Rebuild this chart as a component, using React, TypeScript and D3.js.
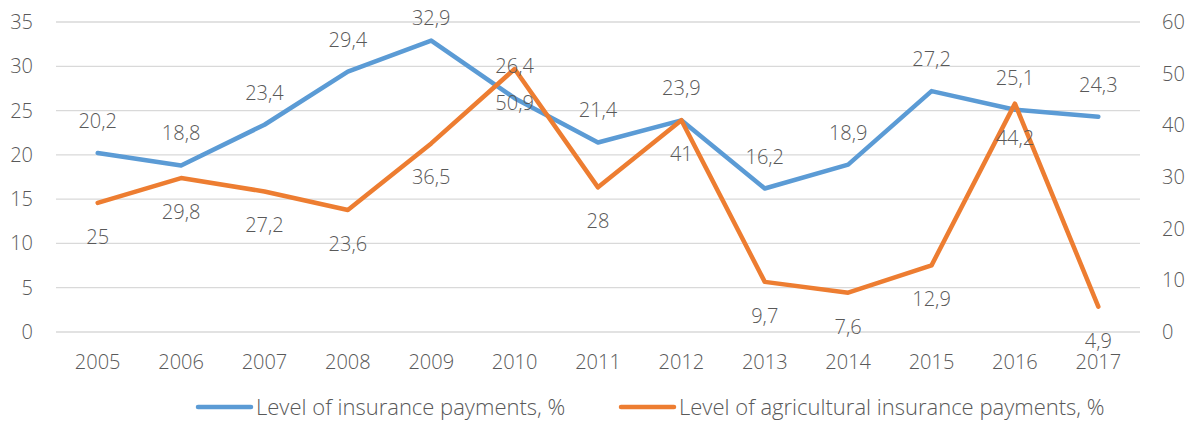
import React from "react";
import * as d3 from "d3";

// chart data
const years = ["2005", "2006", "2007", "2008", "2009", "2010", "2011", "2012", "2013", "2014", "2015", "2016", "2017"];
const insurancePayments = [20.2, 18.8, 23.4, 29.4, 32.9, 26.4, 21.4, 23.9, 16.2, 18.9, 27.2, 25.1, 24.3];
const agriPayments = [25, 29.8, 27.2, 23.6, 36.5, 50.9, 28, 41, 9.7, 7.6, 12.9, 44.2, 4.9];
const leftTicks = [0, 5, 10, 15, 20, 25, 30, 35];
const rightTicks = [0, 10, 20, 30, 40, 50, 60];
const seriesNames = ["Level of insurance payments, %", "Level of agricultural insurance payments, %"];

const W = 1194, H = 421;
const margin = { top: 22, right: 54, bottom: 89, left: 56 };
const BLUE = "#5B9BD5";
const ORANGE = "#ED7D31";
const TEXT = "#595959";
const FONT = "'Open Sans', sans-serif";
const FS = 20;

const fmt = (v: number) => String(v).replace(".", ",");

export default function App() {
  const x = d3.scaleBand<string>().domain(years).range([margin.left, W - margin.right]);
  const yL = d3.scaleLinear().domain([0, 35]).range([H - margin.bottom, margin.top]);
  const yR = d3.scaleLinear().domain([0, 60]).range([H - margin.bottom, margin.top]);
  const cx = (y: string) => (x(y) ?? 0) + x.bandwidth() / 2;

  const lineL = d3.line<number>().x((_, i) => cx(years[i])).y((d) => yL(d));
  const lineR = d3.line<number>().x((_, i) => cx(years[i])).y((d) => yR(d));

  return (
    <svg width={W} height={H} style={{ position: "absolute", left: 0, top: 0 }} fontFamily={FONT} fontWeight={300}>
      <rect width={W} height={H} fill="#fff" />
      {/* gridlines */}
      {leftTicks.map((t) => (
        <line key={t} x1={margin.left} x2={W - margin.right} y1={yL(t)} y2={yL(t)} stroke="#D9D9D9" strokeWidth={1.3} />
      ))}
      {/* left axis */}
      {leftTicks.map((t) => (
        <text key={t} x={33} y={yL(t)} dy="0.35em" textAnchor="end" fontSize={FS} fill={TEXT}>{t}</text>
      ))}
      {/* right axis */}
      {rightTicks.map((t) => (
        <text key={t} x={1162} y={yR(t)} dy="0.35em" textAnchor="start" fontSize={FS} fill={TEXT}>{t}</text>
      ))}
      {/* x axis */}
      {years.map((y) => (
        <text key={y} x={cx(y)} y={362} dy="0.35em" textAnchor="middle" fontSize={FS} fill={TEXT}>{y}</text>
      ))}
      <path d={lineL(insurancePayments) ?? ""} fill="none" stroke={BLUE} strokeWidth={4.5} strokeLinejoin="round" strokeLinecap="round" />
      <path d={lineR(agriPayments) ?? ""} fill="none" stroke={ORANGE} strokeWidth={4.5} strokeLinejoin="round" strokeLinecap="round" />
      {/* data labels: blue above, orange below, kept inside the chart */}
      {insurancePayments.map((v, i) => (
        <text key={"b" + i} x={cx(years[i])} y={Math.max(18, yL(v) - 32)} dy="0.35em" textAnchor="middle" fontSize={FS} fill={TEXT}>{fmt(v)}</text>
      ))}
      {agriPayments.map((v, i) => (
        <text key={"o" + i} x={cx(years[i])} y={yR(v) + 34} dy="0.35em" textAnchor="middle" fontSize={FS} fill={TEXT}>{fmt(v)}</text>
      ))}
      {/* legend */}
      <line x1={198} x2={251} y1={407} y2={407} stroke={BLUE} strokeWidth={4.5} strokeLinecap="round" />
      <text x={256} y={407} dy="0.35em" fontSize={22} fill={TEXT}>{seriesNames[0]}</text>
      <line x1={621} x2={674} y1={407} y2={407} stroke={ORANGE} strokeWidth={4.5} strokeLinecap="round" />
      <text x={679} y={407} dy="0.35em" fontSize={22} fill={TEXT}>{seriesNames[1]}</text>
    </svg>
  );
}
